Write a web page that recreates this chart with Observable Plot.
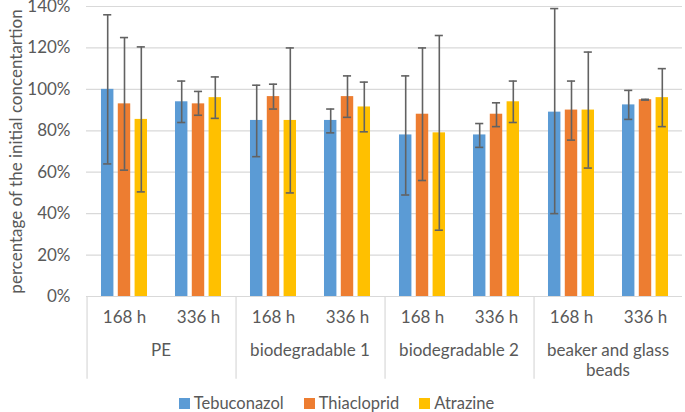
<!DOCTYPE html>
<html>
<head>
<meta charset="utf-8">
<script src="https://cdn.jsdelivr.net/npm/d3@7"></script>
<script src="https://cdn.jsdelivr.net/npm/@observablehq/plot@0.6"></script>
<style>
  body { margin: 0; background: #fff; font-family: Lato, "Open Sans", sans-serif; }
  #legend { display: flex; justify-content: center; align-items: center; height: 22px; margin-top: 7px; margin-left: -12px; font-size: 16.5px; color: #595959; line-height: 1; }
  #legend .item { display: flex; align-items: center; margin: 0 10px; }
  #legend .sw { width: 11px; height: 11px; display: inline-block; margin-right: 4px; }
</style>
</head>
<body>
<div id="chart"></div>
<div id="legend"></div>
<script>
// Categories
const materials = ["PE", "biodegradable 1", "biodegradable 2", "beaker and glass beads"];
const materialLabels = ["PE", "biodegradable 1", "biodegradable 2", "beaker and glass\nbeads"];
const times = ["168 h", "336 h"];
const series = ["Tebuconazol", "Thiacloprid", "Atrazine"];
const colors = ["#5B9BD5", "#ED7D31", "#FFC000"];
const yTicks = [0, 20, 40, 60, 80, 100, 120, 140];

// Values, order: PE 168, PE 336, bio1 168, bio1 336, bio2 168, bio2 336, beaker 168, beaker 336
const tebuMean = [100, 94, 85, 85, 78, 78, 89, 92.5];
const tebuHigh = [136, 104, 102, 90.5, 106.5, 83.5, 139, 99.5];
const tebuLow  = [64, 84, 67.5, 79, 49, 72, 40, 85.5];
const thiaMean = [93, 93, 96.5, 96.5, 88, 88, 90, 95];
const thiaHigh = [125, 99, 102.5, 106.5, 120, 93.5, 104, 95.2];
const thiaLow  = [61, 87.5, 90.5, 86.5, 56, 82, 75.5, 94.8];
const atraMean = [85.5, 96, 85, 91.5, 79, 94, 90, 96];
const atraHigh = [120.5, 106, 120, 103.5, 126, 104, 118, 110];
const atraLow  = [50.5, 86, 50, 79.5, 32, 84, 62, 82];

const means = [tebuMean, thiaMean, atraMean];
const highs = [tebuHigh, thiaHigh, atraHigh];
const lows = [tebuLow, thiaLow, atraLow];

const rows = [];
materials.forEach((m, i) => times.forEach((t, j) => series.forEach((s, k) => {
  rows.push({material: m, time: t, series: s, value: means[k][i * 2 + j], low: lows[k][i * 2 + j], high: highs[k][i * 2 + j]});
})));

const W = 685, H = 385, mL = 84, mR = 2, mT = 6, mB = 89;
const facetW = (W - mL - mR) / materials.length;
const bandW = facetW / times.length;
const barW = 13.3, step = 16.8, capW = 9;
const errColor = "#626262";

const seriesMarks = series.flatMap((s, k) => {
  const data = rows.filter(d => d.series === s);
  const dx = (k - 1) * step;
  return [
    Plot.barY(data, {fx: "material", x: "time", y: "value", fill: "series", dx, insetLeft: (bandW - barW) / 2, insetRight: (bandW - barW) / 2}),
    Plot.ruleX(data, {fx: "material", x: "time", y1: "low", y2: "high", dx, stroke: errColor, strokeWidth: 1.6}),
    Plot.tickY(data, {fx: "material", x: "time", y: "high", dx, stroke: errColor, strokeWidth: 1.6, insetLeft: (bandW - capW) / 2, insetRight: (bandW - capW) / 2}),
    Plot.tickY(data, {fx: "material", x: "time", y: "low", dx, stroke: errColor, strokeWidth: 1.6, insetLeft: (bandW - capW) / 2, insetRight: (bandW - capW) / 2})
  ];
});

const chart = Plot.plot({
  width: W, height: H,
  marginLeft: mL, marginRight: mR, marginTop: mT, marginBottom: mB,
  style: {fontFamily: "Lato, 'Open Sans', sans-serif", color: "#595959", background: "#fff"},
  fx: {domain: materials, padding: 0, axis: null},
  x: {domain: times, padding: 0, axis: null},
  y: {domain: [0, 140], axis: null},
  color: {domain: series, range: colors},
  marks: [
    Plot.gridY(yTicks.filter(v => v > 0), {stroke: "#d9d9d9", strokeOpacity: 1, strokeWidth: 1.2}),
    Plot.ruleY([0], {stroke: "#d9d9d9", strokeWidth: 1.2}),
    Plot.ruleX(materials, {fx: d => d, x: () => times[0], dx: -bandW / 2, y1: 0, y2: -40, stroke: "#d9d9d9", strokeWidth: 1.2}),
    ...seriesMarks,
    Plot.axisY(yTicks, {tickSize: 0, tickPadding: 16, tickFormat: d => d + "%", fontSize: 17, fill: "#595959",
      label: "percentage of the initial concentartion", labelAnchor: "center", labelOffset: 77, labelArrow: "none"}),
    Plot.axisX({tickSize: 0, tickPadding: 14, fontSize: 17, fill: "#595959", label: null}),
    Plot.axisFx({anchor: "bottom", tickSize: 0, tickPadding: 45, fontSize: 17, fill: "#595959", label: null, lineHeight: 1.2,
      tickFormat: d => materialLabels[materials.indexOf(d)]})
  ]
});
document.getElementById("chart").appendChild(chart);

const legend = document.getElementById("legend");
series.forEach((s, k) => {
  const item = document.createElement("span");
  item.className = "item";
  const sw = document.createElement("span");
  sw.className = "sw";
  sw.style.background = colors[k];
  const tx = document.createElement("span");
  tx.textContent = s;
  item.appendChild(sw);
  item.appendChild(tx);
  legend.appendChild(item);
});
</script>
</body>
</html>
